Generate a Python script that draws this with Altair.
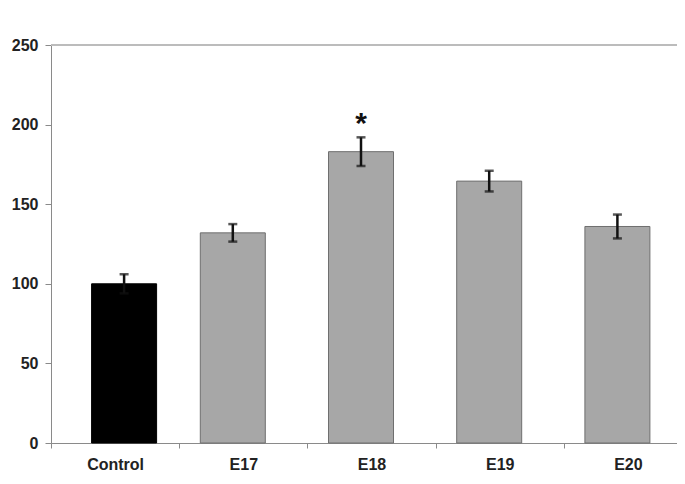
import altair as alt
import pandas as pd

categories = ["Control", "E17", "E18", "E19", "E20"]
values = [100, 132, 183, 164.5, 136]
errors = [6, 5.5, 9, 6.5, 7.5]
marks = ["", "", "*", "", ""]
y_ticks = [0, 50, 100, 150, 200, 250]

df = pd.DataFrame({"cat": categories, "val": values, "err": errors, "mark": marks})
df["lo"] = df["val"] - df["err"]
df["hi"] = df["val"] + df["err"]

FONT = "Liberation Sans"

xenc = alt.X(
    "cat:N",
    sort=categories,
    scale=alt.Scale(domain=categories, paddingInner=0, paddingOuter=0),
    axis=alt.Axis(
        title=None, labelAngle=0, tickBand="extent", tickSize=5, tickColor="#8a8a8a",
        domainColor="#8a8a8a", labelFont=FONT, labelFontSize=16, labelFontWeight="bold",
        labelColor="#222222", labelPadding=8,
    ),
)
yscale = alt.Scale(domain=[0, 250], nice=False, zero=True)
yaxis = alt.Axis(
    title=None, values=y_ticks, grid=False, tickSize=6, tickColor="#8a8a8a",
    domainColor="#8a8a8a", labelFont=FONT, labelFontSize=16, labelFontWeight="bold",
    labelColor="#222222", labelPadding=7,
)
yenc = alt.Y("val:Q", scale=yscale, axis=yaxis)

base = alt.Chart(df)

top_line = base.mark_rule(color="#bdbdbd", strokeWidth=1.5).encode(
    y=alt.datum(250, scale=yscale, axis=yaxis)
)

is_ctrl = alt.datum.cat == "Control"
not_ctrl = alt.datum.cat != "Control"
OFF_C = 9
OFF_R = -10.5

bars_ctrl = base.transform_filter(is_ctrl).mark_bar(
    size=65, xOffset=OFF_C, color="#000000", stroke="#000000", strokeWidth=1
).encode(x=xenc, y=yenc)

bars_rest = base.transform_filter(not_ctrl).mark_bar(
    size=65, xOffset=OFF_R, color="#a7a7a7", stroke="#6f6f6f", strokeWidth=1
).encode(x=xenc, y=yenc)


def err_layers(flt, off):
    d = base.transform_filter(flt)
    stem = d.mark_rule(color="#111111", strokeWidth=2.5, xOffset=off).encode(
        x=xenc, y=alt.Y("lo:Q", scale=yscale, axis=yaxis), y2="hi:Q"
    )
    cap_lo = d.mark_tick(color="#111111", thickness=2.5, size=9, xOffset=off).encode(
        x=xenc, y=alt.Y("lo:Q", scale=yscale, axis=yaxis)
    )
    cap_hi = d.mark_tick(color="#111111", thickness=2.5, size=9, xOffset=off).encode(
        x=xenc, y=alt.Y("hi:Q", scale=yscale, axis=yaxis)
    )
    return [stem, cap_lo, cap_hi]


star = base.transform_filter(alt.datum.mark != "").mark_text(
    font=FONT, fontSize=30, fontWeight="bold", color="#111111", baseline="bottom",
    xOffset=OFF_R, dy=2,
).encode(x=xenc, y=alt.Y("hi:Q", scale=yscale, axis=yaxis), text="mark:N")

chart = alt.layer(
    bars_ctrl, bars_rest, top_line, *err_layers(is_ctrl, OFF_C), *err_layers(not_ctrl, OFF_R), star
).properties(
    width=641,
    height=398,
    autosize=alt.AutoSizeParams(type="none"),
    padding={"left": 43, "top": 37, "right": -15, "bottom": 29},
).configure_view(stroke=None).configure(background="white")

chart.save("out.html", embed_options={"renderer": "svg", "actions": False})
